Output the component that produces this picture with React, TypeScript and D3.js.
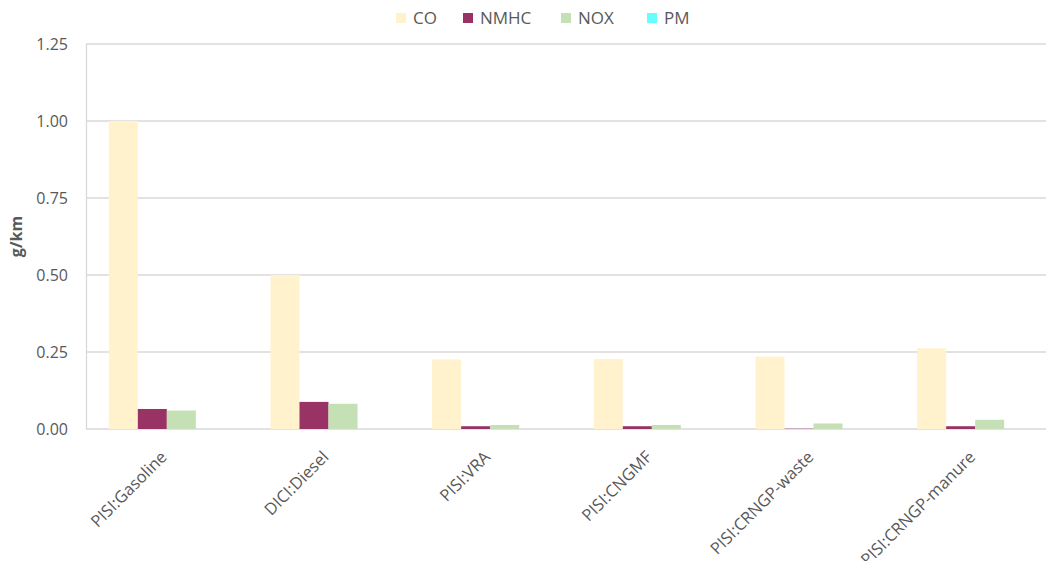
import React, { useEffect, useRef } from "react";
import * as d3 from "d3";

const categories = ["PISI:Gasoline", "DICI:Diesel", "PISI:VRA", "PISI:CNGMF", "PISI:CRNGP-waste", "PISI:CRNGP-manure"];
const seriesNames = ["CO", "NMHC", "NOX", "PM"];
const coValues = [1.0, 0.5, 0.226, 0.227, 0.235, 0.262];
const nmhcValues = [0.065, 0.088, 0.009, 0.009, 0.001, 0.009];
const noxValues = [0.06, 0.082, 0.013, 0.013, 0.018, 0.03];
const pmValues = [0, 0, 0, 0, 0, 0];
const seriesColors = ["#FFF2CC", "#993366", "#C5E0B4", "#66FFFF"];
const yTicks = [0, 0.25, 0.5, 0.75, 1.0, 1.25];

const W = 1046;
const H = 561;
const FONT = "'Open Sans', sans-serif";

export default function App() {
  const ref = useRef<SVGSVGElement>(null);
  useEffect(() => {
    document.body.style.margin = "0";
    const svg = d3.select(ref.current);
    svg.selectAll("*").remove();
    const left = 86, right = 1056, top = 44, bottom = 429;
    const values = [coValues, nmhcValues, noxValues, pmValues];
    const x0 = d3.scaleBand<string>().domain(categories).range([left, right]).paddingInner(0).paddingOuter(0);
    const x1 = d3.scaleBand<string>().domain(seriesNames).range([0, x0.bandwidth()]).paddingInner(0).paddingOuter(0.786);
    const y = d3.scaleLinear().domain([0, 1.25]).range([bottom, top]);

    // gridlines
    svg.append("g").selectAll("line").data(yTicks).join("line")
      .attr("x1", left).attr("x2", right)
      .attr("y1", d => y(d)).attr("y2", d => y(d))
      .attr("stroke", "#D9D9D9").attr("stroke-width", 1.3);
    svg.append("line").attr("x1", left + 0.5).attr("x2", left + 0.5).attr("y1", top).attr("y2", bottom)
      .attr("stroke", "#D9D9D9").attr("stroke-width", 1.3);

    // y tick labels
    svg.append("g").selectAll("text").data(yTicks).join("text")
      .attr("x", 68).attr("y", d => y(d)).attr("dy", "0.35em")
      .attr("text-anchor", "end").attr("font-family", FONT).attr("font-size", 16).attr("fill", "#595959")
      .text(d => d3.format(".2f")(d));

    // y title
    svg.append("text").attr("transform", `translate(22,${(top + bottom) / 2}) rotate(-90)`)
      .attr("text-anchor", "middle").attr("font-family", FONT).attr("font-size", 16).attr("font-weight", "bold")
      .attr("fill", "#595959").text("g/km");

    // bars
    const g = svg.append("g");
    seriesNames.forEach((s, si) => {
      g.append("g").selectAll("rect").data(categories).join("rect")
        .attr("x", c => (x0(c) as number) + (x1(s) as number))
        .attr("width", x1.bandwidth())
        .attr("y", (c, i) => y(values[si][i]))
        .attr("height", (c, i) => bottom - y(values[si][i]))
        .attr("fill", seriesColors[si]);
    });

    // x labels
    svg.append("g").selectAll("text").data(categories).join("text")
      .attr("transform", c => `translate(${(x0(c) as number) + x0.bandwidth() / 2 - 3},${bottom + 25}) rotate(-45)`)
      .attr("text-anchor", "end").attr("dy", "0.35em")
      .attr("font-family", FONT).attr("font-size", 16.5).attr("fill", "#595959")
      .text(c => c);

    // legend
    const legendX = [396, 463, 561, 647];
    const lg = svg.append("g");
    seriesNames.forEach((s, i) => {
      lg.append("rect").attr("x", legendX[i]).attr("y", 13).attr("width", 10).attr("height", 10).attr("fill", seriesColors[i]);
      lg.append("text").attr("x", legendX[i] + 17).attr("y", 18).attr("dy", "0.35em")
        .attr("font-family", FONT).attr("font-size", 17).attr("fill", "#595959").text(s);
    });
  }, []);
  return <svg ref={ref} width={W} height={H} style={{ display: "block", background: "#fff" }} />;
}
